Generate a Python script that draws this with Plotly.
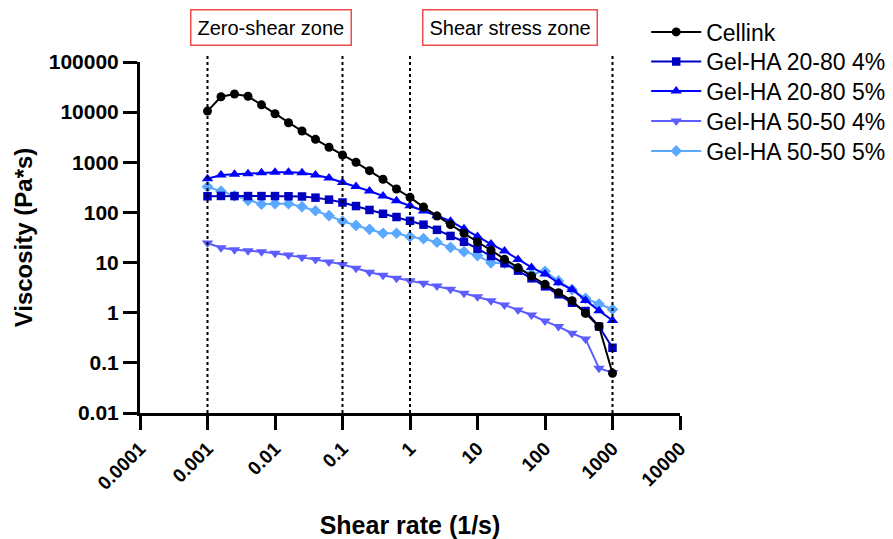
import plotly.graph_objects as go

# Shear-rate sweep (1/s), five points per decade
shear_rate = [0.001, 0.001585, 0.002512, 0.003981, 0.00631,
              0.01, 0.01585, 0.02512, 0.03981, 0.0631,
              0.1, 0.1585, 0.2512, 0.3981, 0.631,
              1, 1.585, 2.512, 3.981, 6.31,
              10, 15.85, 25.12, 39.81, 63.1,
              100, 158.5, 251.2, 398.1, 631, 1000]

# Viscosity (Pa*s) for each bioink
cellink = [10500, 20300, 23000, 20700, 14000, 9300, 6150, 4200, 2870, 1990,
           1400, 1000, 680, 458, 293, 200, 128, 85, 57, 38.4,
           25.7, 17.6, 11.6, 7.9, 5.4, 3.68, 2.5, 1.73, 0.97, 0.53, 0.062]
gelha_2080_4 = [210, 213, 212, 212, 212, 212, 210, 208, 197, 180,
                158, 134, 112, 94, 81, 68, 57, 45, 34, 26,
                18.9, 13.5, 9.7, 6.9, 4.85, 3.36, 2.33, 1.58, 1.08, 0.53, 0.20]
gelha_2080_5 = [470, 557, 575, 592, 620, 630, 630, 620, 557, 485,
                395, 330, 268, 213, 171, 136, 107, 86, 67, 47,
                33, 23.4, 17, 11.5, 8.0, 5.9, 3.96, 2.9, 1.75, 1.10, 0.70]
gelha_5050_4 = [24.5, 19.8, 18, 17.3, 16.5, 15.3, 14.1, 12.7, 11.5, 10.3,
                9.2, 7.7, 6.4, 5.6, 4.85, 4.35, 3.85, 3.4, 2.93, 2.44,
                2.08, 1.73, 1.43, 1.13, 0.90, 0.68, 0.53, 0.39, 0.30, 0.078, 0.064]
gelha_5050_5 = [324, 265, 214, 174, 146, 149, 149, 130, 108, 86,
                67, 55, 46, 38.4, 38.4, 32.8, 29.9, 25.4, 20.1, 16.5,
                13.8, 9.9, 9.7, 7.7, 5.9, 6.7, 4.3, 2.9, 1.94, 1.49, 1.17]

series_names = ["Cellink", "Gel-HA 20-80 4%", "Gel-HA 20-80 5%",
                "Gel-HA 50-50 4%", "Gel-HA 50-50 5%"]
series_values = [cellink, gelha_2080_4, gelha_2080_5, gelha_5050_4, gelha_5050_5]
series_colors = ["#000000", "#0000C0", "#0000FF", "#5C5CFF", "#5AA8FF"]
series_symbols = ["circle", "square", "triangle-up", "triangle-down", "diamond"]
series_sizes = [9, 8.5, 10, 10, 9]

# Zone boundaries (1/s)
zone_edges = [0.001, 0.1, 1, 1000]

x_ticks = [0.0001, 0.001, 0.01, 0.1, 1, 10, 100, 1000, 10000]
x_tick_labels = ["0.0001", "0.001", "0.01", "0.1", "1", "10", "100", "1000", "10000"]
y_ticks = [0.01, 0.1, 1, 10, 100, 1000, 10000, 100000]
y_tick_labels = ["0.01", "0.1", "1", "10", "100", "1000", "10000", "100000"]

FONT = "Liberation Sans, Arial, Helvetica, sans-serif"

# one legend box per series so the rows can be spaced freely
legend_ids = ["legend", "legend2", "legend3", "legend4", "legend5"]
legend_rows_y = [1.0855, 1.0014, 0.9174, 0.8319, 0.7464]

fig = go.Figure()

# draw last series first so Cellink sits on top
for i in reversed(range(len(series_names))):
    fig.add_trace(go.Scatter(
        x=shear_rate, y=series_values[i], name=series_names[i],
        mode="lines+markers",
        line=dict(color=series_colors[i], width=2),
        marker=dict(symbol=series_symbols[i], size=series_sizes[i],
                    color=series_colors[i]),
        legend=legend_ids[i],
    ))

for xv in zone_edges:
    fig.add_shape(type="line", xref="x", yref="paper",
                  x0=xv, x1=xv, y0=0, y1=1.02,
                  line=dict(color="black", width=2, dash="3px,3px"))

box_style = dict(xref="paper", yref="paper", showarrow=False,
                 font=dict(family=FONT, size=20, color="black"),
                 bordercolor="#EE4B4B", borderwidth=1.5, borderpad=6,
                 bgcolor="white", yanchor="middle", xanchor="center")
fig.add_annotation(text="Zero-shear zone", x=0.2426, y=1.0997, **box_style)
fig.add_annotation(text="Shear stress zone", x=0.685, y=1.0997, **box_style)

fig.update_xaxes(
    type="log", range=[-4, 4],
    tickvals=x_ticks, ticktext=x_tick_labels, tickangle=-45,
    tickfont=dict(family=FONT, size=19, color="black", weight="bold"),
    ticks="outside", ticklen=14, tickwidth=3, tickcolor="black",
    showline=True, linewidth=3, linecolor="black",
    showgrid=False, zeroline=False,
    title=dict(text="Shear rate (1/s)", standoff=30,
               font=dict(family=FONT, size=25, color="black", weight="bold")),
)
fig.update_yaxes(
    type="log", range=[-2, 5],
    tickvals=y_ticks, ticktext=y_tick_labels,
    tickfont=dict(family=FONT, size=21, color="black", weight="bold"),
    ticks="outside", ticklen=14, tickwidth=3, tickcolor="black",
    showline=True, linewidth=3, linecolor="black",
    showgrid=False, zeroline=False,
    title=dict(text="Viscosity (Pa*s)", standoff=10,
               font=dict(family=FONT, size=24, color="black", weight="bold")),
)

legend_common = dict(x=0.9374, xanchor="left", yanchor="middle",
                     font=dict(family=FONT, size=23, color="black"),
                     bgcolor="rgba(0,0,0,0)", itemwidth=50)
legend_layout = {lid: dict(y=yv, **legend_common)
                 for lid, yv in zip(legend_ids, legend_rows_y)}

fig.update_layout(
    width=893, height=539,
    margin=dict(l=140, r=213, t=62, b=126, autoexpand=False),
    paper_bgcolor="white", plot_bgcolor="white",
    showlegend=True,
    **legend_layout,
)

fig.write_html("out.html")
